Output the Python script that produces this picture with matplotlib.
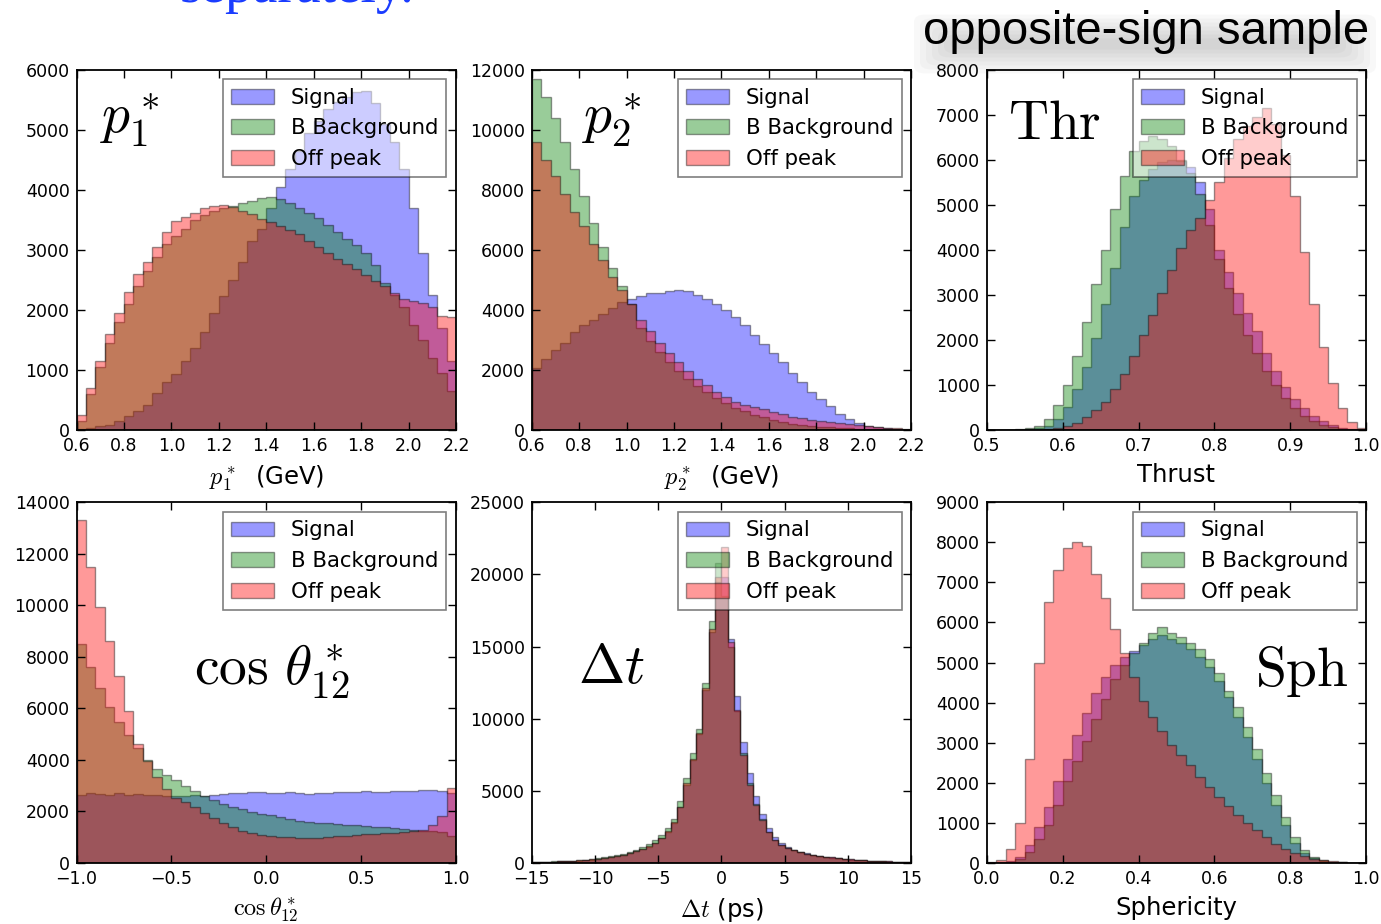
import numpy as np
import matplotlib
matplotlib.use('Agg')
import matplotlib.pyplot as plt
from matplotlib.patches import FancyBboxPatch

plt.rcParams['font.family'] = ['DejaVu Sans']
plt.rcParams['mathtext.fontset'] = 'cm'

labels = ['Signal', 'B Background', 'Off peak']
colors = ['b', 'g', 'r']

# p1* (GeV): 40 bins from 0.6 to 2.2
p1_sig = [20, 40, 60, 80, 150, 230, 320, 420, 610, 800, 940, 1150, 1370, 1640, 1950,
          2230, 2500, 2800, 3150, 3350, 3700, 4050, 4350, 4650, 4950, 5150, 5350, 5470,
          5550, 5620, 5650, 5450, 5100, 4800, 4350, 3700, 2950, 2250, 1700, 1150]
p1_bkg = [150, 600, 1050, 1450, 1800, 2100, 2400, 2650, 2880, 3100, 3230, 3350, 3500,
          3580, 3640, 3700, 3730, 3780, 3820, 3870, 3880, 3850, 3780, 3700, 3620, 3530,
          3420, 3300, 3180, 3080, 2950, 2750, 2450, 2250, 2050, 1750, 1500, 1200, 950, 650]
p1_off = [250, 700, 1150, 1600, 1950, 2300, 2600, 2800, 3050, 3300, 3480, 3550, 3620,
          3700, 3730, 3740, 3720, 3650, 3600, 3520, 3460, 3400, 3330, 3260, 3150, 3050,
          2950, 2850, 2760, 2680, 2580, 2480, 2400, 2280, 2180, 2150, 2120, 2050, 1900, 1880]

# p2* (GeV): 40 bins from 0.6 to 2.2
p2_sig = [2050, 2350, 2650, 2900, 3250, 3500, 3680, 3850, 4050, 4250, 4350, 4450, 4550,
          4570, 4620, 4650, 4620, 4500, 4350, 4200, 4000, 3780, 3500, 3180, 2850, 2550,
          2250, 1900, 1600, 1280, 1030, 800, 550, 370, 240, 150, 100, 60, 30, 15]
p2_bkg = [11700, 11100, 10400, 9600, 8700, 7800, 6900, 6100, 5400, 4800, 4200, 3400,
          2950, 2600, 2250, 1950, 1700, 1450, 1250, 1050, 900, 750, 620, 500, 420, 340,
          270, 210, 170, 130, 110, 90, 70, 55, 45, 35, 25, 15, 10, 5]
p2_off = [9600, 9000, 8450, 7850, 7250, 6800, 6200, 5650, 5100, 4650, 4200, 3650, 3300,
          2900, 2550, 2250, 1950, 1700, 1500, 1280, 1100, 950, 850, 780, 700, 600, 520,
          450, 390, 340, 300, 260, 230, 200, 170, 140, 110, 80, 60, 40]

# Thrust: 40 bins from 0.5 to 1.0
thr_sig = [0, 0, 0, 5, 15, 40, 90, 250, 520, 900, 1400, 2050, 2800, 3600, 4500, 5200,
           5550, 5800, 5950, 6000, 5980, 5850, 5500, 4900, 4000, 3500, 3050, 2600, 2200,
           1700, 1300, 950, 680, 480, 320, 190, 110, 55, 20, 5]
thr_bkg = [0, 0, 5, 15, 40, 100, 250, 550, 1000, 1650, 2400, 3250, 4000, 4900, 5650,
           6200, 6420, 6520, 6450, 6300, 6000, 5700, 5250, 4550, 3800, 3150, 2580, 2100,
           1700, 1300, 1000, 720, 500, 310, 200, 120, 60, 30, 10, 3]
thr_off = [0, 0, 0, 0, 5, 10, 20, 40, 90, 160, 280, 450, 620, 900, 1250, 1650, 2100,
           2550, 3050, 3550, 4050, 4450, 4700, 5100, 5500, 6050, 6450, 6750, 6950, 7150,
           6800, 6100, 5200, 3950, 2800, 1850, 1050, 500, 180, 40]

# cos theta*_12: 40 bins from -1 to 1
cos_sig = [2650, 2700, 2680, 2650, 2700, 2650, 2680, 2650, 2620, 2600, 2580, 2600, 2620,
           2600, 2630, 2680, 2700, 2720, 2750, 2760, 2700, 2720, 2760, 2700, 2680, 2720,
           2700, 2740, 2760, 2740, 2780, 2760, 2750, 2780, 2800, 2780, 2820, 2830, 2780, 2700]
cos_bkg = [8500, 7600, 6800, 6050, 5450, 4950, 4450, 4000, 3650, 3400, 3200, 3000, 2780,
           2600, 2450, 2300, 2170, 2070, 1980, 1910, 1840, 1770, 1700, 1640, 1600, 1560,
           1530, 1500, 1470, 1450, 1420, 1390, 1370, 1340, 1310, 1280, 1250, 1220, 1180, 1050]
cos_off = [13300, 11500, 9950, 8600, 7250, 5900, 4600, 3950, 3350, 2850, 2500, 2350, 2150,
           1950, 1750, 1550, 1400, 1250, 1150, 1080, 1040, 1010, 990, 970, 950, 960, 990,
           1020, 1050, 1070, 1100, 1130, 1160, 1170, 1200, 1220, 1260, 1450, 1800, 2900]

# Delta t (ps): 60 bins from -15 to 15
dt_sig = [50, 55, 65, 75, 90, 105, 125, 150, 180, 220, 270, 320, 380, 450, 540, 650, 780,
          920, 1100, 1350, 1700, 2150, 2750, 3900, 5400, 7100, 8900, 12000, 16000, 19500,
          19800, 15500, 11600, 8400, 6200, 4600, 3400, 2400, 1800, 1400, 1100, 900, 770,
          660, 570, 500, 430, 380, 330, 290, 250, 210, 180, 155, 135, 115, 100, 85, 75, 65]
dt_bkg = [60, 70, 80, 90, 110, 130, 150, 180, 220, 270, 320, 380, 450, 530, 640, 760, 900,
          1060, 1280, 1550, 1900, 2400, 3000, 4300, 5900, 7600, 9300, 12500, 16800, 20800,
          18500, 15000, 10500, 7600, 5500, 4100, 3000, 2150, 1600, 1250, 1050, 850, 720,
          620, 530, 460, 400, 350, 300, 260, 220, 190, 160, 140, 120, 100, 85, 75, 65, 55]
dt_off = [60, 65, 75, 85, 100, 115, 135, 160, 195, 240, 290, 340, 400, 470, 560, 670, 800,
          950, 1150, 1400, 1750, 2200, 2800, 3900, 5500, 7200, 9000, 12100, 16200, 19800,
          21900, 15300, 10600, 7500, 5400, 4000, 2950, 2100, 1600, 1250, 1050, 880, 750,
          640, 560, 480, 420, 370, 320, 280, 240, 205, 175, 150, 130, 110, 95, 80, 70, 60]

# Sphericity: 40 bins from 0 to 1
sph_sig = [0, 10, 50, 150, 450, 900, 1400, 2050, 2600, 3200, 3750, 4250, 4650, 4950, 5150,
           5300, 5450, 5600, 5700, 5600, 5500, 5350, 5150, 4900, 4550, 4150, 3650, 3150,
           2600, 2000, 1450, 950, 500, 250, 110, 50, 20, 8, 3, 1]
sph_bkg = [0, 5, 30, 100, 280, 600, 950, 1450, 2050, 2550, 3050, 3600, 4100, 4600, 4950,
           5250, 5500, 5750, 5880, 5750, 5650, 5500, 5350, 5100, 4750, 4300, 3900, 3400,
           2850, 2250, 1700, 1150, 650, 330, 150, 60, 25, 10, 3, 1]
sph_off = [20, 80, 350, 1000, 2600, 5000, 6500, 7300, 7850, 8000, 7900, 7200, 6600, 5850,
           5250, 4650, 4050, 3650, 3300, 2950, 2700, 2450, 2150, 1900, 1650, 1420, 1200,
           1000, 820, 650, 480, 350, 240, 160, 100, 60, 35, 15, 5, 2]

fig = plt.figure(figsize=(13.81, 9.24), dpi=100, facecolor='w')

lefts = [0.0554, 0.3850, 0.7145]
w = 0.2748
bottoms = [0.5346, 0.0663]
h = 0.3900


def draw(ax, lo, hi, series, xticks, yticks, xlabel, tag, tagpos):
    edges = np.linspace(lo, hi, len(series[0]) + 1)
    mids = 0.5 * (edges[:-1] + edges[1:])
    for vals, c, lab in zip(series, colors, labels):
        ax.hist(mids, bins=edges, weights=vals, histtype='stepfilled',
                color=c, edgecolor='k', lw=1, alpha=0.4, label=lab)
    ax.set_xlim(lo, hi)
    ax.set_ylim(yticks[0], yticks[-1])
    ax.set_xticks(xticks)
    ax.set_yticks(yticks)
    ax.tick_params(direction='in', top=True, right=True, length=6, width=1,
                   labelsize=12.5, pad=5)
    for s in ax.spines.values():
        s.set_linewidth(1.3)
    ax.set_xlabel(xlabel, fontsize=17.5, labelpad=6)
    leg = ax.legend(loc='upper right', fontsize=15.3, framealpha=0.5,
                    fancybox=False, edgecolor='k', borderaxespad=0.45)
    leg.get_frame().set_linewidth(1.2)
    ax.text(tagpos[0], tagpos[1], tag, transform=ax.transAxes, fontsize=40,
            ha='center', va='center', zorder=5)


ax = fig.add_axes([lefts[0], bottoms[0], w, h])
draw(ax, 0.6, 2.2, (p1_sig, p1_bkg, p1_off), np.arange(0.6, 2.21, 0.2),
     np.arange(0, 6001, 1000), r'$p_1^*$  (GeV)', r'$p_1^*$', (0.14, 0.86))

ax = fig.add_axes([lefts[1], bottoms[0], w, h])
draw(ax, 0.6, 2.2, (p2_sig, p2_bkg, p2_off), np.arange(0.6, 2.21, 0.2),
     np.arange(0, 12001, 2000), r'$p_2^*$  (GeV)', r'$p_2^*$', (0.21, 0.86))

ax = fig.add_axes([lefts[2], bottoms[0], w, h])
draw(ax, 0.5, 1.0, (thr_sig, thr_bkg, thr_off), np.arange(0.5, 1.01, 0.1),
     np.arange(0, 8001, 1000), 'Thrust', r'$\mathrm{Thr}$', (0.18, 0.85))

ax = fig.add_axes([lefts[0], bottoms[1], w, h])
draw(ax, -1.0, 1.0, (cos_sig, cos_bkg, cos_off), np.arange(-1.0, 1.01, 0.5),
     np.arange(0, 14001, 2000), r'$\cos\theta^*_{12}$', r'$\cos\,\theta^*_{12}$',
     (0.515, 0.53))

ax = fig.add_axes([lefts[1], bottoms[1], w, h])
draw(ax, -15, 15, (dt_sig, dt_bkg, dt_off), np.arange(-15, 16, 5),
     np.arange(0, 25001, 5000), r'$\Delta t$ (ps)', r'$\Delta t$', (0.21, 0.54))

ax = fig.add_axes([lefts[2], bottoms[1], w, h])
draw(ax, 0.0, 1.0, (sph_sig, sph_bkg, sph_off), np.arange(0.0, 1.01, 0.2),
     np.arange(0, 9001, 1000), 'Sphericity', r'$\mathrm{Sph}$', (0.83, 0.53))

# slide text around the figure
fig.text(0.130, 1 - 2 / 924, 'separately.', family='Liberation Serif', fontsize=40,
         color='#1a3cff', ha='left', va='baseline')

# soft gray shadow behind the slide caption
for i in range(7):
    dx, dy = 6 * i, 4 * i
    box = FancyBboxPatch(((925 + dx) / 1381, 1 - (66 - dy) / 924),
                         (440 - 2 * dx) / 1381, (44 - 2 * dy) / 924,
                         boxstyle='round,pad=0.008', transform=fig.transFigure,
                         fc='0.3', ec='none', alpha=0.035, zorder=1)
    fig.add_artist(box)
fig.text(0.6685, 1 - 44 / 924, 'opposite-sign sample', family='Liberation Sans',
         fontsize=34, color='k', ha='left', va='baseline', zorder=3)

fig.savefig('out.png', dpi=100, facecolor='w')
